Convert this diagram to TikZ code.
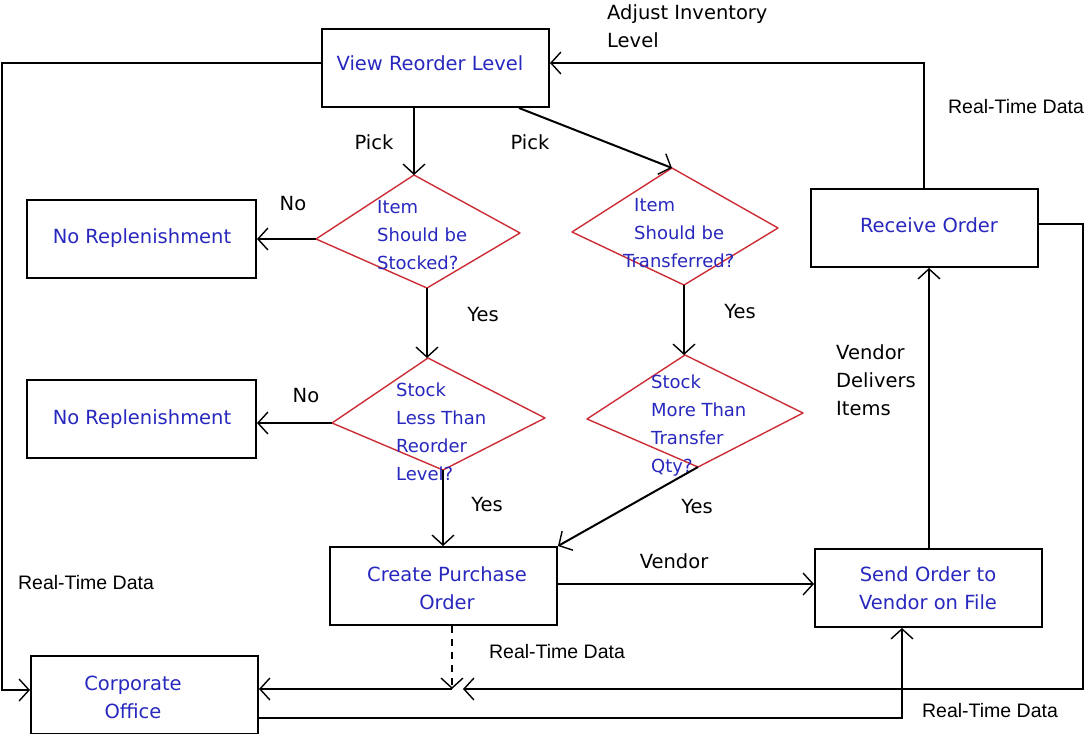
\documentclass[tikz,border=0pt]{standalone}
\usepackage{fontspec}
\setmainfont{DejaVu Sans}
\newfontfamily\arialfont{Liberation Sans}
\usetikzlibrary{arrows.meta}
\definecolor{flowblue}{RGB}{40,40,190}
\definecolor{flowred}{RGB}{205,45,55}
\begin{document}
\begin{tikzpicture}[x=1pt,y=-1pt,
  >={Straight Barb[length=10pt,width=22pt,line width=1.4pt]},
  line/.style={line width=2pt},
  box/.style={draw,line width=2pt,inner sep=0pt,minimum height=78pt},
  decision/.style={draw=flowred,line width=1.4pt,line join=round},
  boxtext/.style={text=flowblue,inner sep=0pt,align=center,font=\fontsize{19.5}{28}\selectfont},
  dectext/.style={text=flowblue,inner sep=0pt,align=left,anchor=west,font=\fontsize{18}{28}\selectfont},
  lbl/.style={inner sep=0pt,font=\fontsize{19.5}{28}\selectfont},
  rtd/.style={inner sep=0pt,font=\arialfont\fontsize{19.5}{24}\selectfont}]
\useasboundingbox[fill=white] (0,0) rectangle (1085,734);

% process boxes
\node[box,minimum width=227pt] (vrl) at (435.5,68) {};
\node[box,minimum width=229pt] (nr1) at (141.5,239) {};
\node[box,minimum width=229pt] (nr2) at (141.5,419) {};
\node[box,minimum width=227pt] (ro)  at (924.5,228) {};
\node[box,minimum width=227pt] (cpo) at (443.5,586) {};
\node[box,minimum width=227pt] (so)  at (928.5,588) {};
\node[box,minimum width=227pt] (co)  at (144.5,695) {};

\node[boxtext] (vrlt) at (430,63) {View Reorder Level};
\node[boxtext] (nr1t) at (142,238) {No Replenishment};
\node[boxtext] (nr2t) at (142,419) {No Replenishment};
\node[boxtext] (rot)  at (929,225) {Receive Order};
\node[boxtext] (cpot) at (447,588) {Create Purchase\\Order};
\node[boxtext] (sot)  at (928,588) {Send Order to\\Vendor on File};
\node[boxtext] (cot)  at (133,697) {Corporate\\Office};

% decision diamonds (corners: top, right, bottom, left)
\coordinate (d1t) at (414,175); \coordinate (d1r) at (520,233);
\coordinate (d1b) at (427,288); \coordinate (d1l) at (316,239);
\coordinate (d2t) at (428,358); \coordinate (d2r) at (545,418);
\coordinate (d2b) at (443,470); \coordinate (d2l) at (332,423);
\coordinate (d3t) at (672,168); \coordinate (d3r) at (778,228);
\coordinate (d3b) at (684,285); \coordinate (d3l) at (572,232);
\coordinate (d4t) at (685,355); \coordinate (d4r) at (803,413);
\coordinate (d4b) at (698,467); \coordinate (d4l) at (587,419);
\draw[decision] (d1t) -- (d1r) -- (d1b) -- (d1l) -- cycle;
\draw[decision] (d2t) -- (d2r) -- (d2b) -- (d2l) -- cycle;
\draw[decision] (d3t) -- (d3r) -- (d3b) -- (d3l) -- cycle;
\draw[decision] (d4t) -- (d4r) -- (d4b) -- (d4l) -- cycle;

\node[dectext] (d1txt) at (377,235) {Item\\Should be\\Stocked?};
\node[dectext] (d2txt) at (396,432) {Stock\\Less Than\\Reorder\\Level?};
\node[dectext] (d3txt) at (634,233) {Item\\Should be\\\hspace*{-11pt}Transferred?};
\node[dectext] (d4txt) at (651,426) {Stock\\More Than\\Transfer\\Qty?};

% rails for the long loops
\coordinate (rail) at (1.5,400);
\coordinate (rail2) at (1083,689);
\coordinate (bus) at (452,689);

% connectors
\draw[line,->] ([yshift=5pt]vrl.west) -- ([yshift=5pt]vrl.west -| rail) |- ([yshift=5pt]co.west);
\draw[line,->] ([xshift=-0.5pt]ro.north) |- ([yshift=5pt]vrl.east);
\draw[line,->] (vrl.south -| d1t) -- (d1t);
\draw[line,->] ([xshift=-31pt]vrl.south east) -- (d3t);
\draw[line,->] (d1l) -- (d1l -| nr1.east);
\draw[line,->] (d1b) -- (d1b |- d2t);
\draw[line,->] (d2l) -- (d2l -| nr2.east);
\draw[line,->] (d2b) -- (d2b |- cpo.north);
\draw[line,->] (d3b) -- (d3b |- d4t);
\draw[line,->] (d4b) -- (cpo.north east);
\draw[line,->] ([yshift=2pt]cpo.east) -- ([yshift=2pt]cpo.east -| so.west);
\draw[line,->] ([xshift=0.5pt]so.north) -- ([xshift=0.5pt]so.north |- ro.south);
\draw[line,->] ([yshift=4pt]ro.east) -| (rail2) -- ([xshift=11pt]bus);
\draw[line,->] (bus) -- (bus -| co.east);
\draw[line,dashed,dash pattern=on 7pt off 6pt,->] (cpo.south -| bus) -- (bus);
\draw[line,->] ([yshift=-23pt]co.east) -| ([xshift=-26.5pt]so.south);

% flow labels
\node[lbl,anchor=west,align=left] (adj) at (607,26) {Adjust Inventory\\Level};
\node[lbl] (pick1) at (374,142) {Pick};
\node[lbl] (pick2) at (530,142) {Pick};
\node[lbl] (no1) at (293,204) {No};
\node[lbl] (no2) at (306,396) {No};
\node[lbl] (yes1) at (483,315) {Yes};
\node[lbl] (yes2) at (740,312) {Yes};
\node[lbl] (yes3) at (487,505) {Yes};
\node[lbl] (yes4) at (697,507) {Yes};
\node[lbl,anchor=west,align=left] (vdi) at (836,380) {Vendor\\Delivers\\Items};
\node[lbl] (vend) at (674,561) {Vendor};
\node[rtd] (rtd1) at (1016,107) {Real-Time Data};
\node[rtd] (rtd2) at (86,583) {Real-Time Data};
\node[rtd] (rtd3) at (557,652) {Real-Time Data};
\node[rtd] (rtd4) at (990,711) {Real-Time Data};
\end{tikzpicture}
\end{document}
